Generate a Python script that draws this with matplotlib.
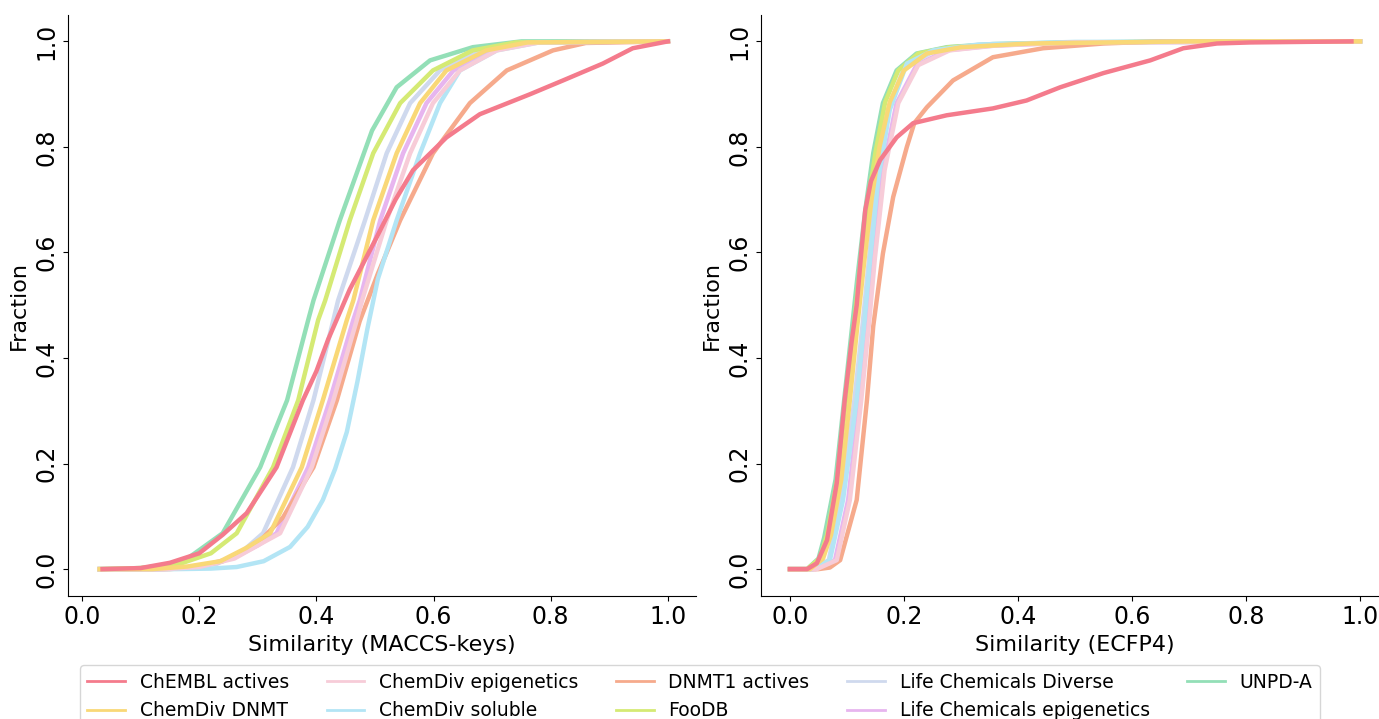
import matplotlib
matplotlib.use('Agg')
from matplotlib import pyplot as plt

# cumulative fractions, (similarity, fraction)
LABELS = ["ChEMBL actives", "ChemDiv DNMT", "ChemDiv epigenetics", "ChemDiv soluble",
          "DNMT1 actives", "FooDB", "Life Chemicals Diverse", "Life Chemicals epigenetics", "UNPD-A"]
COLORS = ['#f47b8c', '#f9d877', '#f7ccd8', '#b3e5f5',
          '#f6aa8c', '#d5ea74', '#cfd9ee', '#e7b5ef', '#93dfb7']

maccs_chembl = [(0.035, 0), (0.1, 0.002), (0.15, 0.012), (0.2, 0.03), (0.24, 0.065), (0.281, 0.106),
                (0.332, 0.193), (0.377, 0.32), (0.4, 0.375), (0.42, 0.435), (0.457, 0.53),
                (0.503, 0.629), (0.535, 0.70), (0.565, 0.756), (0.622, 0.818), (0.679, 0.862),
                (0.765, 0.90), (0.821, 0.926), (0.889, 0.958), (0.94, 0.987), (1.0, 1.0)]
maccs_dnmt = [(0.03, 0), (0.12, 0), (0.18, 0.005), (0.236, 0.015), (0.28, 0.04), (0.321, 0.068),
              (0.375, 0.193), (0.411, 0.32), (0.452, 0.472), (0.463, 0.509), (0.497, 0.661),
              (0.537, 0.788), (0.577, 0.883), (0.622, 0.945), (0.69, 0.983), (0.76, 0.998), (1.0, 1.0)]
maccs_epi = [(0.03, 0), (0.14, 0), (0.2, 0.004), (0.26, 0.02), (0.3, 0.045), (0.338, 0.068),
             (0.392, 0.193), (0.429, 0.32), (0.469, 0.472), (0.478, 0.509), (0.52, 0.661),
             (0.56, 0.788), (0.599, 0.883), (0.645, 0.945), (0.708, 0.983), (0.78, 0.998), (1.0, 1.0)]
maccs_soluble = [(0.03, 0), (0.16, 0), (0.22, 0.001), (0.264, 0.004), (0.31, 0.015), (0.355, 0.042),
                 (0.385, 0.08), (0.411, 0.131), (0.432, 0.19), (0.452, 0.26), (0.47, 0.355),
                 (0.487, 0.455), (0.505, 0.55), (0.537, 0.661), (0.577, 0.788), (0.611, 0.883),
                 (0.645, 0.945), (0.708, 0.983), (0.78, 0.998), (1.0, 1.0)]
maccs_dnmt1 = [(0.03, 0), (0.15, 0), (0.2, 0.005), (0.24, 0.015), (0.27, 0.03), (0.305, 0.055),
               (0.343, 0.098), (0.395, 0.193), (0.435, 0.32), (0.474, 0.47), (0.505, 0.56),
               (0.543, 0.661), (0.599, 0.788), (0.662, 0.883), (0.725, 0.945), (0.804, 0.983),
               (0.86, 0.997), (1.0, 1.0)]
maccs_foodb = [(0.03, 0), (0.1, 0.002), (0.167, 0.01), (0.22, 0.03), (0.264, 0.068), (0.326, 0.193),
               (0.369, 0.32), (0.403, 0.472), (0.415, 0.509), (0.457, 0.661), (0.497, 0.788),
               (0.543, 0.883), (0.599, 0.945), (0.667, 0.983), (0.74, 0.998), (1.0, 1.0)]
maccs_lcd = [(0.03, 0), (0.13, 0), (0.18, 0.003), (0.23, 0.01), (0.27, 0.03), (0.309, 0.068),
             (0.36, 0.193), (0.395, 0.32), (0.429, 0.472), (0.437, 0.509), (0.483, 0.661),
             (0.52, 0.788), (0.56, 0.883), (0.611, 0.945), (0.679, 0.983), (0.75, 0.998), (1.0, 1.0)]
maccs_lce = [(0.03, 0), (0.14, 0), (0.2, 0.005), (0.26, 0.022), (0.3, 0.045), (0.332, 0.068),
             (0.386, 0.193), (0.423, 0.32), (0.463, 0.472), (0.474, 0.509), (0.509, 0.661),
             (0.548, 0.788), (0.588, 0.883), (0.634, 0.945), (0.696, 0.983), (0.77, 0.998), (1.0, 1.0)]
maccs_unpd = [(0.03, 0), (0.1, 0.002), (0.167, 0.01), (0.2, 0.036), (0.24, 0.068), (0.304, 0.193),
              (0.35, 0.32), (0.386, 0.472), (0.395, 0.509), (0.44, 0.661), (0.495, 0.831),
              (0.537, 0.913), (0.594, 0.964), (0.667, 0.989), (0.75, 1.0), (1.0, 1.0)]

ecfp_chembl = [(0.0, 0), (0.03, 0), (0.047, 0.011), (0.065, 0.055), (0.082, 0.163), (0.096, 0.32),
               (0.108, 0.43), (0.117, 0.5), (0.125, 0.6), (0.132, 0.68), (0.142, 0.735),
               (0.158, 0.775), (0.187, 0.818), (0.216, 0.845), (0.275, 0.86), (0.356, 0.873),
               (0.415, 0.888), (0.474, 0.913), (0.55, 0.94), (0.632, 0.964), (0.69, 0.987),
               (0.749, 0.996), (0.807, 0.998), (0.985, 1.0)]
ecfp_dnmt = [(0.0, 0), (0.035, 0), (0.058, 0.02), (0.072, 0.065), (0.09, 0.17), (0.105, 0.32),
             (0.118, 0.46), (0.13, 0.58), (0.143, 0.7), (0.157, 0.8), (0.175, 0.885), (0.2, 0.945),
             (0.24, 0.977), (0.3, 0.989), (0.42, 0.996), (0.7, 1.0), (1.0, 1.0)]
ecfp_epi = [(0.0, 0), (0.047, 0), (0.082, 0.017), (0.105, 0.131), (0.125, 0.32), (0.139, 0.47),
            (0.149, 0.59), (0.166, 0.756), (0.19, 0.883), (0.225, 0.955), (0.28, 0.983),
            (0.36, 0.992), (0.5, 0.998), (1.0, 1.0)]
ecfp_soluble = [(0.0, 0), (0.04, 0), (0.07, 0.017), (0.093, 0.131), (0.117, 0.32), (0.13, 0.46),
                (0.14, 0.58), (0.155, 0.74), (0.175, 0.87), (0.205, 0.958), (0.251, 0.983),
                (0.33, 0.994), (0.5, 0.999), (1.0, 1.0)]
ecfp_dnmt1 = [(0.0, 0), (0.05, 0), (0.07, 0.003), (0.088, 0.017), (0.117, 0.131), (0.135, 0.32),
              (0.146, 0.46), (0.163, 0.598), (0.181, 0.705), (0.205, 0.80), (0.218, 0.845),
              (0.24, 0.875), (0.286, 0.926), (0.356, 0.97), (0.444, 0.987), (0.55, 0.996),
              (0.65, 1.0), (1.0, 1.0)]
ecfp_foodb = [(0.0, 0), (0.03, 0), (0.052, 0.02), (0.065, 0.065), (0.083, 0.17), (0.098, 0.32),
              (0.111, 0.45), (0.122, 0.56), (0.136, 0.69), (0.15, 0.79), (0.167, 0.885),
              (0.19, 0.945), (0.225, 0.977), (0.28, 0.989), (0.4, 0.996), (0.7, 1.0), (1.0, 1.0)]
ecfp_lcd = [(0.0, 0), (0.04, 0), (0.068, 0.017), (0.09, 0.13), (0.113, 0.32), (0.127, 0.46),
            (0.138, 0.58), (0.152, 0.74), (0.172, 0.87), (0.2, 0.95), (0.25, 0.98), (0.33, 0.993),
            (0.5, 0.998), (1.0, 1.0)]
ecfp_lce = [(0.0, 0), (0.045, 0), (0.079, 0.017), (0.102, 0.131), (0.122, 0.32), (0.136, 0.47),
            (0.146, 0.59), (0.163, 0.756), (0.187, 0.883), (0.222, 0.955), (0.275, 0.983),
            (0.356, 0.992), (0.5, 0.998), (1.0, 1.0)]
ecfp_unpd = [(0.0, 0), (0.03, 0), (0.05, 0.02), (0.06, 0.06), (0.08, 0.17), (0.095, 0.32),
             (0.108, 0.45), (0.118, 0.55), (0.132, 0.68), (0.146, 0.788), (0.163, 0.883),
             (0.187, 0.945), (0.222, 0.977), (0.275, 0.989), (0.356, 0.995), (0.5, 0.998),
             (0.7, 1.0), (1.0, 1.0)]

MACCS = [maccs_chembl, maccs_dnmt, maccs_epi, maccs_soluble, maccs_dnmt1,
         maccs_foodb, maccs_lcd, maccs_lce, maccs_unpd]
ECFP = [ecfp_chembl, ecfp_dnmt, ecfp_epi, ecfp_soluble, ecfp_dnmt1,
        ecfp_foodb, ecfp_lcd, ecfp_lce, ecfp_unpd]

W, H = 1379, 719
TICK_SIZE = 17
LABEL_SIZE = 16
LINE_WIDTH = 3.2


def draw_panel(ax, series, xlabel, xlim):
    # last label drawn first so ChEMBL ends up on top
    handles = [None] * len(series)
    for i in reversed(range(len(series))):
        xs = [p[0] for p in series[i]]
        ys = [p[1] for p in series[i]]
        handles[i], = ax.plot(xs, ys, color=COLORS[i], lw=LINE_WIDTH, label=LABELS[i],
                              solid_joinstyle='round')
    ax.set_xlim(*xlim)
    ax.set_ylim(-0.05, 1.05)
    ax.spines['top'].set_visible(False)
    ax.spines['right'].set_visible(False)
    ax.set_xticks([0.0, 0.2, 0.4, 0.6, 0.8, 1.0])
    ax.set_yticks([0.0, 0.2, 0.4, 0.6, 0.8, 1.0])
    ax.tick_params(labelsize=TICK_SIZE)
    plt.setp(ax.get_yticklabels(), rotation=90, va='center')
    ax.set_xlabel(xlabel, fontsize=LABEL_SIZE)
    ax.set_ylabel("Fraction", fontsize=LABEL_SIZE)
    return handles


fig = plt.figure(figsize=(W / 100, H / 100), dpi=100)
ax_left = fig.add_axes([68 / W, 1 - 595.5 / H, 628 / W, 580.5 / H])
ax_right = fig.add_axes([761.5 / W, 1 - 595.5 / H, 627 / W, 580.5 / H])

handles = draw_panel(ax_left, MACCS, "Similarity (MACCS-keys)", (-0.024, 1.048))
draw_panel(ax_right, ECFP, "Similarity (ECFP4)", (-0.05, 1.05))

legend = fig.legend(handles=handles, loc='upper center', bbox_to_anchor=(700 / W, 1 - 656 / H),
                    ncol=5, fontsize=13.5, frameon=True)
for line in legend.get_lines():
    line.set_linewidth(2.0)

fig.savefig('out.png', dpi=100)
